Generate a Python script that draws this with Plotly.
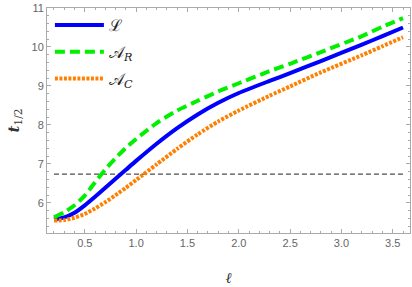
import plotly.graph_objects as go

ell = [0.2, 0.3, 0.4, 0.5, 0.6, 0.7, 0.8, 0.9, 1.0, 1.2, 1.4, 1.6, 1.8, 2.0, 2.3, 2.5, 2.8, 3.2, 3.4, 3.6]
t_L = [5.58, 5.63, 5.75, 5.94, 6.16, 6.39, 6.62, 6.85, 7.08, 7.52, 7.92, 8.27, 8.57, 8.82, 9.13, 9.33, 9.64, 10.06, 10.28, 10.50]
t_AR = [5.63, 5.76, 5.94, 6.19, 6.53, 6.86, 7.15, 7.41, 7.64, 8.05, 8.37, 8.62, 8.86, 9.07, 9.38, 9.57, 9.87, 10.28, 10.52, 10.74]
t_AC = [5.55, 5.56, 5.62, 5.72, 5.86, 6.02, 6.20, 6.39, 6.59, 6.99, 7.39, 7.76, 8.09, 8.37, 8.75, 8.99, 9.35, 9.79, 10.02, 10.25]
threshold = 6.74

names = ["\u2112", "\U0001D49C<sub><i>R</i></sub>", "\U0001D49C<sub><i>C</i></sub>"]
colors = ["rgb(0,0,255)", "rgb(0,240,0)", "rgb(255,128,0)"]
dashes = ["solid", "10px,5px", "3px,1.5px"]

fig = go.Figure()
fig.add_trace(go.Scatter(x=[ell[0], ell[-1]], y=[threshold, threshold], mode="lines",
                         line=dict(color="#222", width=1, dash="5px,3px"), showlegend=False))
for i, (y, n, c, d) in enumerate(zip([t_L, t_AR, t_AC], names, colors, dashes)):
    fig.add_trace(go.Scatter(x=ell, y=y, mode="lines", name=n, legendgroup=f"g{i}",
                             line=dict(color=c, width=4, dash=d, shape="spline", smoothing=0.6)))

axis_common = dict(showline=True, linecolor="#aaa", linewidth=1, mirror="allticks", automargin=False,
                   ticks="inside", ticklen=4, tickcolor="#aaa", showgrid=False, zeroline=False,
                   tickfont=dict(size=11, color="#666", family="Liberation Sans"))
fig.update_xaxes(range=[0.132, 3.668], dtick=0.5, tick0=0, tickformat=".1f",
                 minor=dict(dtick=0.1, ticklen=2, ticks="inside", tickcolor="#aaa", showgrid=False),
                 title=dict(text="<i>\u2113</i>", font=dict(size=15, color="#333", family="DejaVu Serif"), standoff=24),
                 **axis_common)
fig.update_yaxes(range=[5.23, 11.0], dtick=1, tick0=0,
                 minor=dict(dtick=0.2, ticklen=2, ticks="inside", tickcolor="#aaa", showgrid=False),
                 title=dict(text="<b><i>t</i></b><sub>1/2</sub>", font=dict(size=15, color="#333", family="DejaVu Serif"), standoff=8),
                 **axis_common)
fig.update_layout(width=412, height=287, margin=dict(l=47, r=2, t=8, b=54),
                  plot_bgcolor="white", paper_bgcolor="white",
                  legend=dict(x=0.008, y=1.0, xanchor="left", yanchor="top", bgcolor="rgba(0,0,0,0)",
                              itemwidth=49,
                              font=dict(size=16, color="#222", family="DejaVu Serif"), tracegroupgap=3))
fig.write_html("out.html", config={"displayModeBar": False},
               post_script="document.body.style.margin='0px';")
